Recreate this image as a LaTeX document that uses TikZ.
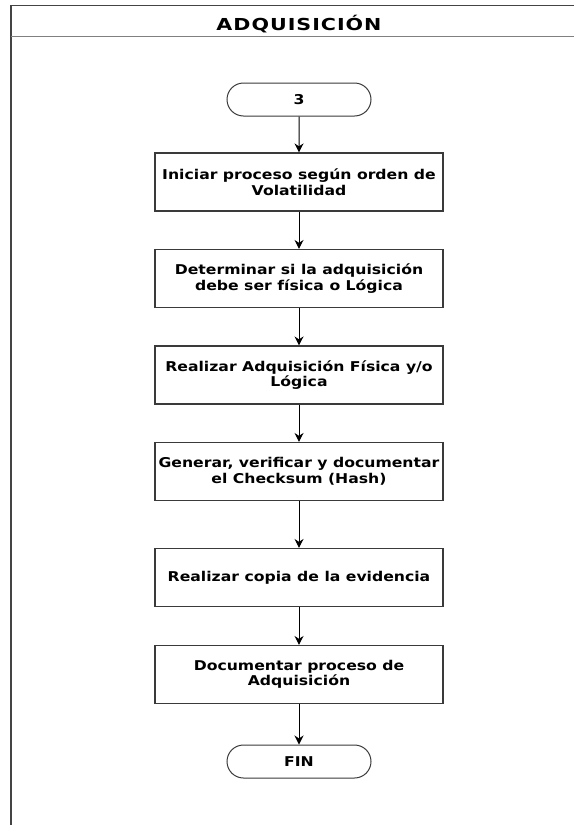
\documentclass[tikz,border=0pt]{standalone}
\usepackage{fontspec}
\setmainfont{DejaVu Sans}
\newfontfamily\bodyfont{DejaVu Sans}[FakeStretch=1.16]
\newfontfamily\titlefont{DejaVu Sans}[FakeStretch=1.25,LetterSpace=6]
\usetikzlibrary{arrows.meta,shapes.misc}
\definecolor{framec}{HTML}{444444}
\definecolor{boxc}{HTML}{3A3A3A}
\tikzset{
  stepbox/.style={draw=boxc, line width=1.1pt, minimum width=288pt, minimum height=58pt,
    align=center, font=\bodyfont\fontsize{13.5pt}{15.5pt}\selectfont\bfseries, inner sep=0pt},
  termbox/.style={draw=boxc, line width=1pt, rounded rectangle, minimum width=144pt, minimum height=33pt,
    font=\bodyfont\fontsize{13.5pt}{15.5pt}\selectfont\bfseries, inner sep=0pt},
  flow/.style={draw=black, line width=1pt, -{Stealth[length=9pt,width=9pt]}},
}
\begin{document}
\begin{tikzpicture}[x=1pt,y=-1pt]
\useasboundingbox (0,0) rectangle (574,825);
\fill[white] (0,0) rectangle (574,825);
% frame
\draw[framec, line width=1.6pt] (574,5.5) -- (11,5.5) -- (11,830);
\draw[gray, line width=1.4pt] (11,36.5) -- (574,36.5);
\node[font=\titlefont\fontsize{16.5pt}{18pt}\selectfont\bfseries, anchor=base, inner sep=0pt] (title) at (299,30) {ADQUISICIÓN};
% nodes
\node[termbox] (start) at (299,99.5) {3};
\node[stepbox] (s1) at (299,182) {Iniciar proceso según orden de\\Volatilidad};
\node[stepbox] (s2) at (299,278.5) {Determinar si la adquisición\\debe ser física o Lógica};
\node[stepbox] (s3) at (299,375) {Realizar Adquisición Física y/o\\Lógica};
\node[stepbox] (s4) at (299,471.5) {Generar, verificar y documentar\\el Checksum (Hash)};
\node[stepbox] (s5) at (299,577.5) {Realizar copia de la evidencia};
\node[stepbox] (s6) at (299,674.5) {Documentar proceso de\\Adquisición};
\node[termbox] (fin) at (299,761.5) {FIN};
% connectors
\draw[flow] (start) -- (s1);
\draw[flow] (s1) -- (s2);
\draw[flow] (s2) -- (s3);
\draw[flow] (s3) -- (s4);
\draw[flow] (s4) -- (s5);
\draw[flow] (s5) -- (s6);
\draw[flow] (s6) -- (fin);
\end{tikzpicture}
\end{document}
